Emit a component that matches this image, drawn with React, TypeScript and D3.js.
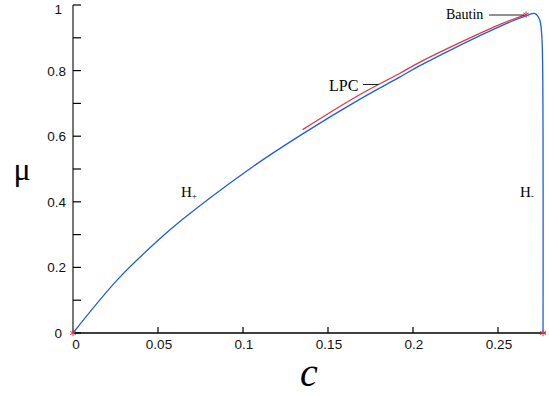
import { useEffect, useRef } from "react"
import * as d3 from "d3"

// Hopf curve (blue)
const hopfC = [0, 0.0266, 0.0504, 0.0643, 0.1041, 0.1351, 0.1688, 0.1924, 0.2041, 0.2512, 0.2665, 0.2718, 0.2745, 0.2757, 0.2762, 0.2765, 0.2765]
const hopfMu = [0, 0.165, 0.284, 0.346, 0.501, 0.607, 0.713, 0.781, 0.815, 0.935, 0.967, 0.974, 0.955, 0.91, 0.834, 0.6, 0]

// LPC curve (red)
const lpcC = [0.1351, 0.1688, 0.1924, 0.2041, 0.2512, 0.2665]
const lpcMu = [0.62, 0.727, 0.792, 0.826, 0.941, 0.971]

// special points (red stars)
const starC = [0, 0.2665, 0.2765]
const starMu = [0, 0.971, 0]

const xTicks = [0, 0.05, 0.1, 0.15, 0.2, 0.25]
const yMajor = [0, 0.2, 0.4, 0.6, 0.8, 1]
const yMinor = [0.1, 0.3, 0.5, 0.7, 0.9]

export default function App() {
  const svgRef = useRef<SVGSVGElement>(null)

  useEffect(() => {
    if (!svgRef.current) return
    const svg = d3.select(svgRef.current)
    svg.selectAll("*").remove()

    const x = d3.scaleLinear().domain([0, 0.278]).range([73, 545.6])
    const y = d3.scaleLinear().domain([0, 1]).range([333, 5])

    const tickFont = "'Liberation Sans', Arial, sans-serif"
    const serif = "'Liberation Serif', 'Times New Roman', serif"

    // x axis
    svg.append("line")
      .attr("x1", x(0)).attr("x2", x(0.278))
      .attr("y1", y(0)).attr("y2", y(0))
      .attr("stroke", "#000").attr("stroke-width", 1.5)
    xTicks.forEach((t) => {
      svg.append("line")
        .attr("x1", x(t)).attr("x2", x(t))
        .attr("y1", y(0)).attr("y2", y(0) - 6)
        .attr("stroke", "#000").attr("stroke-width", 1.2)
      svg.append("text")
        .attr("x", x(t) + (t === 0 ? 3 : 1)).attr("y", 349)
        .attr("text-anchor", "middle")
        .style("font-family", tickFont).style("font-size", "13.5px")
        .attr("fill", "#111")
        .text(d3.format("")(t))
    })

    // y axis
    svg.append("line")
      .attr("x1", x(0)).attr("x2", x(0))
      .attr("y1", y(0)).attr("y2", y(1))
      .attr("stroke", "#777").attr("stroke-width", 2)
    yMajor.concat(yMinor).forEach((t) => {
      svg.append("line")
        .attr("x1", x(0)).attr("x2", x(0) + 8)
        .attr("y1", y(t)).attr("y2", y(t))
        .attr("stroke", "#000").attr("stroke-width", 1.2)
    })
    yMajor.forEach((t) => {
      svg.append("text")
        .attr("x", t === 0 || t === 1 ? 62 : 66)
        .attr("y", t === 1 ? 14 : y(t) + 5)
        .attr("text-anchor", "end")
        .style("font-family", tickFont).style("font-size", "13.5px")
        .attr("fill", "#111")
        .text(d3.format("")(t))
    })

    // axis labels
    svg.append("text")
      .attr("x", 22).attr("y", 180)
      .attr("text-anchor", "middle")
      .style("font-family", serif).style("font-size", "32px")
      .text("μ")
    svg.append("text")
      .attr("x", 309).attr("y", 386)
      .attr("text-anchor", "middle")
      .style("font-family", serif).style("font-size", "40px").style("font-style", "italic")
      .text("c")

    // Hopf curve
    svg.append("path")
      .attr("d", d3.line<number>()
        .x((d) => x(hopfC[d]))
        .y((d) => y(hopfMu[d]))
        .curve(d3.curveCatmullRom.alpha(0.5))(d3.range(hopfC.length)))
      .attr("fill", "none").attr("stroke", "#1f5de0").attr("stroke-width", 1.3)

    // LPC curve
    svg.append("path")
      .attr("d", d3.line<number>()
        .x((d) => x(lpcC[d]))
        .y((d) => y(lpcMu[d]))
        .curve(d3.curveCatmullRom.alpha(0.5))(d3.range(lpcC.length)))
      .attr("fill", "none").attr("stroke", "#e8353f").attr("stroke-width", 1.3)

    // stars
    const star = d3.symbol().type(d3.symbolAsterisk).size(28)
    starC.forEach((c, i) => {
      svg.append("path")
        .attr("d", star()!)
        .attr("transform", `translate(${x(c)},${y(starMu[i])})`)
        .attr("fill", "none").attr("stroke", "#e8353f").attr("stroke-width", 1)
    })

    // annotations
    svg.append("text")
      .attr("x", 446).attr("y", 19)
      .style("font-family", serif).style("font-size", "14px")
      .text("Bautin")
    svg.append("line")
      .attr("x1", 489).attr("x2", x(0.2665) - 2)
      .attr("y1", 15).attr("y2", 15)
      .attr("stroke", "#222").attr("stroke-width", 1)

    svg.append("text")
      .attr("x", 329).attr("y", 91)
      .style("font-family", serif).style("font-size", "16px")
      .text("LPC")
    svg.append("line")
      .attr("x1", 363).attr("x2", 379)
      .attr("y1", 84.5).attr("y2", 84.5)
      .attr("stroke", "#222").attr("stroke-width", 1)

    const hPlus = svg.append("text")
      .attr("x", 181).attr("y", 197)
      .style("font-family", serif).style("font-size", "15px")
    hPlus.append("tspan").text("H")
    hPlus.append("tspan").style("font-size", "9px").attr("dy", 2).text("+")

    const hMinus = svg.append("text")
      .attr("x", 520).attr("y", 197)
      .style("font-family", serif).style("font-size", "15px")
    hMinus.append("tspan").text("H")
    hMinus.append("tspan").style("font-size", "9px").attr("dy", 2).text("-")
  }, [])

  return (
    <div style={{ position: "absolute", left: 0, top: 0 }}>
      <svg ref={svgRef} width={549} height={396} style={{ display: "block", background: "#fff" }}></svg>
    </div>
  )
}
